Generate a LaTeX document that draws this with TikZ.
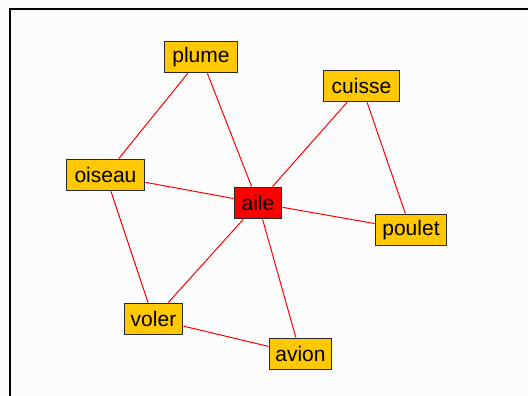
\documentclass[tikz,border=0pt]{standalone}
\usepackage{fontspec}
\setmainfont{Liberation Sans}
\usetikzlibrary{backgrounds}
\definecolor{nodeyellow}{HTML}{FFC800}
\definecolor{bordergray}{HTML}{2A2A2A}
\definecolor{bg}{HTML}{FCFCFC}
\begin{document}
\begin{tikzpicture}[x=1pt,y=-1pt,
  word/.style={draw=bordergray,line width=1.8pt,fill=nodeyellow,inner sep=0pt,
    minimum height=31pt,font=\fontsize{21}{23}\selectfont,text=black},
  hub/.style={word,fill=red},
  link/.style={red,line width=1pt}]
\useasboundingbox (0,0) rectangle (528,396);
\node[word,minimum width=73pt] (plume) at (201,57) {plume};
\node[word,minimum width=76pt] (cuisse) at (361.5,86) {cuisse};
\node[word,minimum width=78pt] (oiseau) at (105.5,175) {oiseau};
\node[hub,minimum width=47pt] (aile) at (258,203) {aile};
\node[word,minimum width=71pt] (poulet) at (411,230) {poulet};
\node[word,minimum width=58pt] (voler) at (153.5,319) {voler};
\node[word,minimum width=62pt] (avion) at (300.5,354) {avion};
\begin{scope}[on background layer]
\fill[bg] (0,0) rectangle (528,396);
\draw[black,line width=2pt] (10,400) -- (10,9) -- (532,9);
\draw[link] (plume) -- (oiseau);
\draw[link] (plume) -- (aile);
\draw[link] (cuisse) -- (aile);
\draw[link] (cuisse) -- (poulet);
\draw[link] (oiseau) -- (aile);
\draw[link] (oiseau) -- (voler);
\draw[link] (aile) -- (poulet);
\draw[link] (aile) -- (voler);
\draw[link] (aile) -- (avion);
\draw[link] (voler) -- (avion);
\end{scope}
\end{tikzpicture}
\end{document}
